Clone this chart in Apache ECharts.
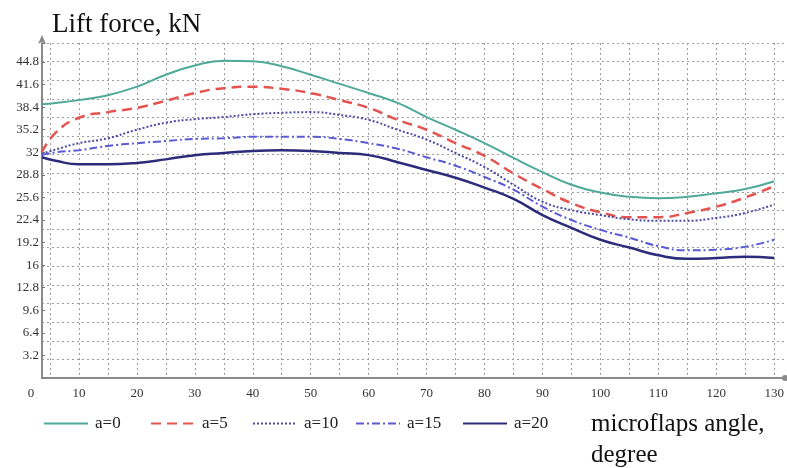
<!DOCTYPE html>
<html>
<head>
<meta charset="utf-8">
<script src="https://cdn.jsdelivr.net/npm/echarts@6/dist/echarts.min.js"></script>
<style>
  html, body { margin: 0; padding: 0; background: #fff; }
  #chart { width: 787px; height: 468px; }
</style>
</head>
<body>
<div id="chart"></div>
<script>
// microflaps angle, degree
const angles = [3.6, 6, 10, 15, 20, 25, 30, 35, 40, 45, 50, 55, 60, 65, 70, 75, 80, 85, 90, 95, 100, 105, 110, 115, 120, 125, 130];
// Lift force, kN
const a0  = [38.8, 39.0, 39.4, 40.1, 41.3, 43.0, 44.3, 45.0, 44.9, 44.2, 43.0, 41.7, 40.4, 39.0, 37.0, 35.2, 33.3, 31.2, 29.2, 27.4, 26.3, 25.7, 25.5, 25.7, 26.2, 26.8, 27.9];
const a5  = [32.0, 34.8, 36.9, 37.7, 38.3, 39.3, 40.4, 41.1, 41.3, 41.0, 40.4, 39.4, 38.3, 36.6, 35.2, 33.3, 31.5, 29.0, 26.8, 24.8, 23.5, 22.8, 22.8, 23.4, 24.3, 25.6, 27.2];
const a10 = [31.8, 32.4, 33.3, 34.0, 35.2, 36.2, 36.7, 37.0, 37.4, 37.6, 37.7, 37.3, 36.6, 35.2, 33.8, 31.9, 29.9, 27.4, 25.0, 23.8, 23.1, 22.5, 22.3, 22.3, 22.7, 23.4, 24.6];
const a15 = [31.6, 32.0, 32.3, 32.9, 33.3, 33.6, 33.9, 34.0, 34.2, 34.2, 34.2, 33.9, 33.3, 32.5, 31.3, 30.1, 28.5, 26.7, 24.3, 22.4, 21.0, 19.9, 18.7, 18.1, 18.2, 18.6, 19.6];
const a20 = [31.3, 30.8, 30.3, 30.3, 30.5, 31.0, 31.6, 31.9, 32.2, 32.3, 32.2, 31.9, 31.6, 30.6, 29.5, 28.4, 27.0, 25.4, 23.1, 21.3, 19.6, 18.5, 17.4, 16.9, 17.0, 17.2, 17.0];
const seriesNames = ['a=0', 'a=5', 'a=10', 'a=15', 'a=20'];
const yTickStep = 3.2;   // y tick labels
const xTickStep = 5;     // x grid step
const yMax = 47.5;
const xMax = 131;

const serif = 'Liberation Serif';
const gridColor = '#9c9c9c';

const seriesValues = [a0, a5, a10, a15, a20];
const lineStyles = [
  { color: '#4fa99b', width: 2, type: 'solid' },
  { color: '#e4534f', width: 2.5, type: [10, 6] },
  { color: '#4b4ba6', width: 2, type: [2, 2] },
  { color: '#5a5ad6', width: 2, type: [8, 3, 2, 3] },
  { color: '#2c2c7c', width: 2.5, type: 'solid' }
];

const chart = echarts.init(document.getElementById('chart'), null, { renderer: 'canvas' });

const series = seriesNames.map((name, i) => ({
  name: name,
  type: 'line',
  xAxisIndex: 1,
  yAxisIndex: 2,
  smooth: 0.5,
  symbol: 'none',
  showSymbol: false,
  lineStyle: lineStyles[i],
  itemStyle: { color: lineStyles[i].color },
  data: angles.map((x, j) => [x, seriesValues[i][j]])
}));

const legendLefts = [38, 145, 247, 350, 457];
const legends = seriesNames.map((name, i) => ({
  data: [name],
  left: legendLefts[i],
  top: 410,
  itemWidth: 44,
  itemHeight: 12,
  itemGap: 0,
  itemStyle: { opacity: 0 },
  textStyle: { fontFamily: serif, fontSize: 17, color: '#222', padding: [0, 0, 0, 2] }
}));

const option = {
  backgroundColor: '#ffffff',
  animation: false,
  title: [
    { text: 'Lift force, kN', left: 47, top: 6,
      textStyle: { fontFamily: serif, fontSize: 27, fontWeight: 'normal', color: '#111' } },
    { text: 'microflaps angle,\ndegree', left: 586, top: 404,
      textStyle: { fontFamily: serif, fontSize: 25, fontWeight: 'normal', color: '#111', lineHeight: 31 } }
  ],
  legend: legends,
  grid: [
    { left: 42, top: 43, width: 743, height: 335 },
    { left: 21, top: 43, width: 764, height: 335 }
  ],
  xAxis: [
    { gridIndex: 0, type: 'value', min: 0, max: 1,
      axisLine: { show: true, lineStyle: { color: '#8a8a8a', width: 2 },
                  symbol: ['none', 'circle'], symbolSize: [6, 6] },
      axisTick: { show: false }, axisLabel: { show: false }, splitLine: { show: false } },
    { gridIndex: 1, type: 'value', min: 0, max: xMax, interval: xTickStep,
      axisLine: { show: false }, axisTick: { show: false },
      axisLabel: {
        margin: 9, fontFamily: serif, fontSize: 13, color: '#333',
        showMaxLabel: false,
        formatter: v => (v === 0 ? '{z|0}' : (v % 10 === 0 && v <= 130 ? String(v) : '')),
        rich: { z: { fontFamily: serif, fontSize: 13, color: '#333', padding: [0, 0, 0, 20] } }
      },
      splitLine: { show: true, showMinLine: false, showMaxLine: false,
                   lineStyle: { color: gridColor, width: 1, type: [2, 3] } } }
  ],
  yAxis: [
    { gridIndex: 0, type: 'value', min: 0, max: yMax, interval: yTickStep,
      axisLine: { show: true, lineStyle: { color: '#8a8a8a', width: 2 },
                  symbol: ['none', 'arrow'], symbolSize: [6, 9], symbolOffset: [0, 8] },
      axisTick: { show: true, inside: true, length: 3, lineStyle: { color: '#777' } },
      axisLabel: { margin: 3, fontFamily: serif, fontSize: 13, color: '#333',
                   formatter: v => (v > 0.1 && v < yMax - 0.5 ? String(Number(v.toFixed(1))) : '') },
      splitLine: { show: false } },
    { gridIndex: 0, type: 'value', min: 0, max: yMax, interval: yMax / 18,
      axisLine: { show: false }, axisTick: { show: false }, axisLabel: { show: false },
      splitLine: { show: true, lineStyle: { color: gridColor, width: 1, type: [2, 3] } } },
    { gridIndex: 1, type: 'value', min: 0, max: yMax, show: false }
  ],
  series: series
};

chart.setOption(option);
</script>
</body>
</html>
